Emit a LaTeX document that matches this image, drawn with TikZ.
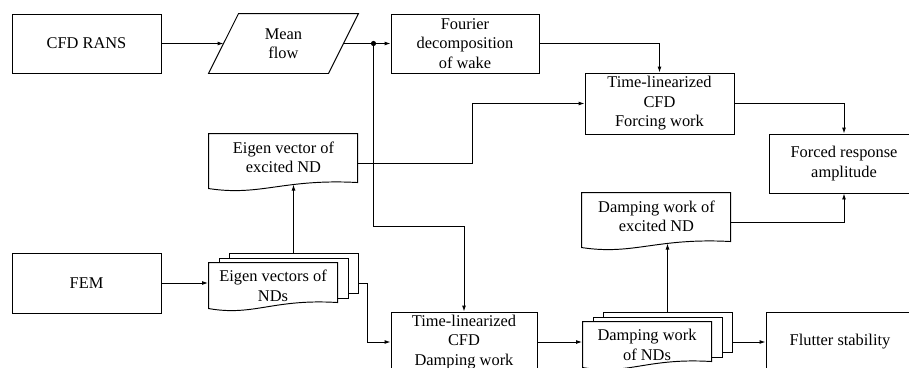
\documentclass[tikz,border=0pt]{standalone}
\usepackage{fontspec}
\setmainfont{Liberation Serif}
\usetikzlibrary{calc,arrows.meta}
\newcommand\docpath[4]{% top-left corner, width, right height, options
  \draw[#4, shift={(#1)}] (0,0) -- (#2,0) -- (#2,#3)
    .. controls ({0.5*#2},{#3-4}) and ({0.35*#2},{#3+14}) .. (0,{#3+6}) -- cycle;}
\begin{document}
\begin{tikzpicture}[x=1pt,y=-1pt,
  line width=0.95pt,
  every node/.style={font=\fontsize{16.4}{19.5}\selectfont},
  box/.style={draw, align=center, inner sep=0pt, minimum height=59pt},
  txt/.style={align=center, inner sep=0pt},
  sheet/.style={draw, fill=white, inner sep=0pt, minimum width=129pt, minimum height=40pt},
  arr/.style={-{Latex[length=6pt,width=4pt]}},
]
\useasboundingbox (0,0) rectangle (909,367);

% top row
\node[box, minimum width=149pt] (cfd) at (86.5,43.5) {CFD RANS};
\node[txt, minimum width=149pt, minimum height=59pt] (mf) at (283.5,43.5) {Mean\\flow};
\draw (mf.south west) -- ($(mf.north west)+(30,0)$) -- (mf.north east) -- ($(mf.south east)+(-30,0)$) -- cycle;
\coordinate (mfL) at ($(mf.west)+(15,0)$);
\coordinate (mfR) at ($(mf.east)+(-15,0)$);
\node[box, minimum width=148pt] (four) at (465,43.5) {Fourier\\decomposition\\of wake};
\node[box, minimum width=149pt, minimum height=61pt] (forc) at (659.5,103.5) {Time-linearized\\CFD\\Forcing work};
\node[box, minimum width=150pt] (resp) at (844,163.5) {Forced response\\amplitude};

% single documents
\node[txt, minimum width=149pt, minimum height=47pt] (evx) at (283.5,157.5) {Eigen vector of\\excited ND};
\docpath{evx.north west}{149}{49}{}
\node[txt, minimum width=149pt, minimum height=47pt] (dex) at (656.5,216.5) {Damping work of\\excited ND};
\docpath{dex.north west}{149}{49}{}

\node[box, minimum width=149pt, minimum height=60pt] (fem) at (86.5,283) {FEM};

% multi documents
\node[sheet] (emvB) at (293.5,273) {};
\node[sheet] (emvM) at ($(emvB)+(-10,5)$) {};
\coordinate (emvNW) at ($(emvM.north west)+(-10,5)$);
\docpath{emvNW}{129}{40}{fill=white}
\node[txt, minimum width=129pt, minimum height=47pt] (emv) at ($(emvNW)+(64.5,23.5)$) {Eigen vectors of\\NDs};

\node[sheet] (dmfB) at (667.5,332) {};
\node[sheet] (dmfM) at ($(dmfB)+(-10,5)$) {};
\coordinate (dmfNW) at ($(dmfM.north west)+(-10,5)$);
\docpath{dmfNW}{129}{40}{fill=white}
\node[txt, minimum width=129pt, minimum height=47pt] (dmf) at ($(dmfNW)+(64.5,23.5)$) {Damping work\\of NDs};

\node[box, minimum width=146pt, minimum height=60pt] (tld) at (464,342) {Time-linearized\\CFD\\Damping work};
\node[box, minimum width=148pt, minimum height=60pt] (flut) at (840,342) {Flutter stability};

% helper coordinates
\coordinate (jn) at ($(mfR)+(30,0)$);
\coordinate (k2) at ($(jn)+(0,182.5)$);
\coordinate (evxR) at ($(evx.north east)+(0,30)$);
\coordinate (k1) at ($(evxR)+(114,0)$);
\coordinate (evxW) at ($(evx.north west)+(0,51)$);
\coordinate (dexR) at ($(dex.north east)+(0,30)$);
\coordinate (dexW) at ($(dex.north west)+(0,51)$);
\coordinate (emvO) at (fem.east -| emvB.east);
\coordinate (k3) at ($(emvO)+(9,0)$);

% connectors
\draw[arr] (cfd.east) -- (mfL);
\draw[arr] (mfR) -- (four.west);
\fill (jn) circle (2.6pt);
\draw[arr] (jn) -- (k2) -| (tld.north);
\draw[arr] (four.east) -| (forc.north);
\draw[arr] (forc.east) -| (resp.north);
\draw[arr] (evxR) -- (k1) |- (forc.west);
\draw[arr] (emvB.north) -- (emvB.north |- evxW);
\draw[arr] (fem.east) -- (fem.east -| emv.west);
\draw[arr] (emvO) -- (k3) |- (tld.west);
\draw[arr] (tld.east) -- (tld.east -| dmf.west);
\draw[arr] (dmfB.north) -- (dmfB.north |- dexW);
\draw[arr] (dexR) -| (resp.south);
\draw[arr] (flut.west -| dmfB.east) -- (flut.west);
\end{tikzpicture}
\end{document}
